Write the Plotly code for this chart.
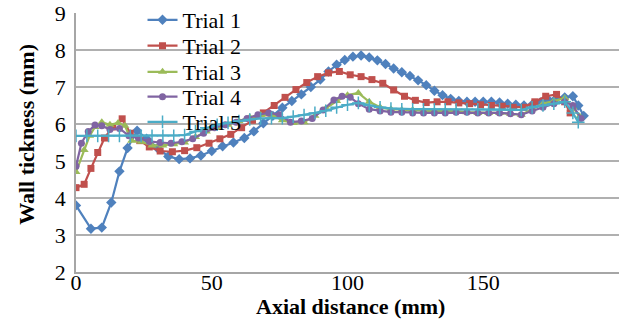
import plotly.graph_objects as go

# ---- data ----
t1_x = [0, 5.5, 9.5, 13, 16, 19, 22.5, 26, 30, 34, 38, 42, 46, 50, 54, 58, 62, 65.5, 69, 72.5,
        76, 79.5, 83, 86.5, 90, 93, 96, 99, 102, 105, 108, 111, 114, 117, 120, 123, 126, 129,
        132, 135, 138, 141, 144, 147, 150, 153, 156, 159, 162, 165, 168, 171, 174, 177, 180,
        183, 185, 187]
t1_y = [3.8, 3.17, 3.2, 3.88, 4.72, 5.35, 5.82, 5.6, 5.35, 5.12, 5.05, 5.07, 5.15, 5.27, 5.4,
        5.5, 5.62, 5.8, 6.02, 6.22, 6.44, 6.62, 6.8, 7.0, 7.2, 7.42, 7.6, 7.73, 7.82, 7.85, 7.8,
        7.72, 7.62, 7.5, 7.4, 7.3, 7.18, 7.05, 6.9, 6.78, 6.68, 6.62, 6.6, 6.6, 6.6, 6.6, 6.58,
        6.55, 6.52, 6.5, 6.52, 6.58, 6.65, 6.7, 6.72, 6.75, 6.5, 6.22]

t2_x = [0, 3, 5.5, 8, 10.5, 13.5, 17, 20, 23.5, 27, 31, 35.5, 40, 44.5, 49, 53, 57, 61, 65, 69,
        73, 77, 81, 85, 89, 93, 97, 101, 105, 109, 113, 117, 121, 125, 129, 133, 137, 141, 145,
        149, 153, 157, 161, 165, 169, 173, 177, 180, 182]
t2_y = [4.28, 4.37, 4.8, 5.23, 5.62, 5.92, 6.14, 5.75, 5.55, 5.38, 5.27, 5.25, 5.28, 5.36,
        5.48, 5.6, 5.72, 5.9, 6.1, 6.3, 6.5, 6.72, 6.93, 7.12, 7.28, 7.38, 7.42, 7.33, 7.28,
        7.2, 7.1, 6.92, 6.75, 6.64, 6.58, 6.6, 6.6, 6.57, 6.55, 6.52, 6.5, 6.48, 6.45, 6.45,
        6.6, 6.75, 6.8, 6.6, 6.3]

t3_x = [0, 3, 5, 7, 9.5, 12.5, 15.5, 18, 20.5, 24, 28, 32, 36, 40, 44, 48, 52, 56, 60, 64, 68,
        72, 76, 80, 84, 88, 92, 96, 100, 104, 108, 112, 116, 120, 124, 128, 132, 136, 140, 144,
        148, 152, 156, 160, 164, 168, 172, 176, 180, 183, 185.5]
t3_y = [4.7, 5.3, 5.68, 5.92, 6.05, 5.98, 6.03, 5.95, 5.55, 5.52, 5.42, 5.42, 5.45, 5.5, 5.65,
        5.8, 5.9, 5.98, 6.08, 6.18, 6.24, 6.25, 6.1, 6.03, 6.05, 6.22, 6.42, 6.62, 6.78, 6.84,
        6.6, 6.45, 6.4, 6.38, 6.38, 6.36, 6.35, 6.35, 6.35, 6.32, 6.3, 6.3, 6.3, 6.28, 6.25,
        6.4, 6.55, 6.62, 6.7, 6.45, 6.2]

t4_x = [0, 2, 4.5, 7, 9.5, 12.5, 16, 19.5, 23, 27, 31, 35, 39, 43, 47, 51, 55, 59, 63, 67, 71,
        75, 79, 83, 87, 91, 95, 98, 101, 104, 108, 112, 116, 120, 124, 128, 132, 136, 140, 144,
        148, 152, 156, 160, 164, 168, 172, 176, 180, 183, 186]
t4_y = [4.86, 5.48, 5.8, 5.97, 5.95, 5.85, 5.88, 5.68, 5.62, 5.53, 5.5, 5.48, 5.52, 5.6, 5.75,
        5.9, 5.98, 6.05, 6.15, 6.25, 6.3, 6.25, 6.05, 6.08, 6.15, 6.38, 6.65, 6.75, 6.72, 6.55,
        6.4, 6.35, 6.32, 6.32, 6.3, 6.3, 6.3, 6.3, 6.32, 6.32, 6.3, 6.3, 6.3, 6.28, 6.25, 6.35,
        6.45, 6.55, 6.6, 6.5, 6.15]

t5_x = [0, 4, 8, 12, 16, 20, 24, 28, 32, 36, 40, 44, 48, 52, 56, 60, 64, 68, 72, 76, 80, 84,
        88, 92, 96, 100, 104, 108, 112, 116, 120, 124, 128, 132, 136, 140, 144, 148, 152, 156,
        160, 164, 168, 172, 176, 180, 183, 185]
t5_y = [5.68, 5.68, 5.68, 5.68, 5.68, 5.68, 5.68, 5.68, 5.68, 5.68, 5.7, 5.8, 5.9, 5.98, 6.03,
        6.08, 6.12, 6.15, 6.16, 6.16, 6.2, 6.24, 6.3, 6.36, 6.45, 6.52, 6.57, 6.5, 6.45, 6.42,
        6.4, 6.4, 6.4, 6.4, 6.4, 6.4, 6.4, 6.4, 6.4, 6.4, 6.4, 6.38, 6.45, 6.5, 6.55, 6.6, 6.3,
        6.05]

series_names = ["Trial 1", "Trial 2", "Trial 3", "Trial 4", "Trial 5"]
x_ticks = [0, 50, 100, 150, 200]
y_ticks = [2, 3, 4, 5, 6, 7, 8, 9]

colors = ["#4F81BD", "#C0504D", "#9BBB59", "#8064A2", "#4BACC6"]
symbols = ["diamond", "square", "triangle-up", "circle", "cross-thin"]
sizes = [8, 7, 8, 7, 9]
legend_ids = ["legend", "legend2", "legend3", "legend4", "legend5"]
legend_y = [0.973, 0.873, 0.772, 0.676, 0.579]

FONT = "Times New Roman, Liberation Serif, DejaVu Serif, serif"

fig = go.Figure()
for name, xs, ys, c, s, sz, lid in zip(series_names,
                                       [t1_x, t2_x, t3_x, t4_x, t5_x],
                                       [t1_y, t2_y, t3_y, t4_y, t5_y],
                                       colors, symbols, sizes, legend_ids):
    marker = dict(symbol=s, size=sz, color=c)
    if s == "cross-thin":
        marker["line"] = dict(color=c, width=1.5)
    fig.add_trace(go.Scatter(x=xs, y=ys, name=name, mode="lines+markers",
                             line=dict(color=c, width=2.2), marker=marker, legend=lid))

legend_layout = {}
for lid, ly in zip(legend_ids, legend_y):
    legend_layout[lid] = dict(x=0.1225, y=ly, xanchor="left", yanchor="middle",
                              bgcolor="rgba(0,0,0,0)", borderwidth=0,
                              font=dict(family=FONT, size=22, color="black"))

fig.update_layout(
    template="none",
    width=626, height=326,
    margin=dict(l=76, r=7, t=13, b=54, autoexpand=False),
    paper_bgcolor="white", plot_bgcolor="white",
    font=dict(family=FONT, size=22, color="black"),
    showlegend=True,
    xaxis=dict(range=[0, 200], tickvals=x_ticks, showgrid=False, automargin=False,
               showline=True, linecolor="#A6A6A6", linewidth=1.5, zeroline=False,
               ticks="", tickfont=dict(family=FONT, size=22), ticklabelstandoff=-10),
    yaxis=dict(range=[2, 9], tickvals=y_ticks, showgrid=True, gridcolor="#B0B0B0",
               gridwidth=1.5, showline=True, linecolor="#A6A6A6", linewidth=1.5,
               automargin=False, zeroline=False, ticks="",
               tickfont=dict(family=FONT, size=22), ticklabelstandoff=4),
    annotations=[
        dict(text="<b>Axial distance (mm)</b>", xref="paper", yref="paper",
             x=0.505, y=-0.135, xanchor="center", yanchor="middle", showarrow=False,
             font=dict(family=FONT, size=22)),
        dict(text="<b>Wall tickness (mm)</b>", xref="paper", yref="paper",
             x=-0.09, y=0.53, xanchor="center", yanchor="middle", textangle=-90,
             showarrow=False, font=dict(family=FONT, size=22)),
    ],
    **legend_layout,
)

fig.write_html(
    "out.html",
    config={"displayModeBar": False},
    post_script="document.body.style.margin='0';document.body.style.padding='0';",
)
